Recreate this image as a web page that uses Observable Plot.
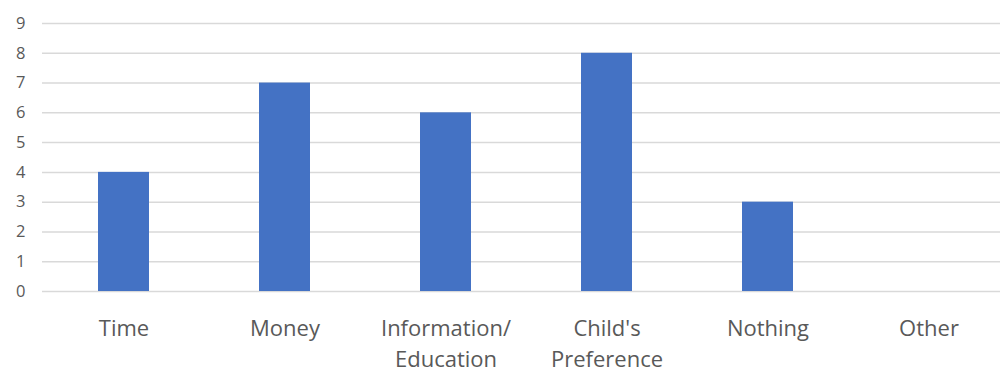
<!DOCTYPE html>
<html>
<head>
<meta charset="utf-8">
<script src="https://cdn.jsdelivr.net/npm/d3@7"></script>
<script src="https://cdn.jsdelivr.net/npm/@observablehq/plot@0.6"></script>
<style>
  html, body { margin: 0; padding: 0; background: #fff; }
  #chart svg { display: block; }
</style>
</head>
<body>
<div id="chart"></div>
<script>
const categories = ["Time", "Money", "Information/\nEducation", "Child's\nPreference", "Nothing", "Other"];
const values = [4, 7, 6, 8, 3, 0];
const yTicks = [0, 1, 2, 3, 4, 5, 6, 7, 8, 9];

const data = categories.map((c, i) => ({category: c, value: values[i]}));

const chart = Plot.plot({
  width: 1000,
  height: 372,
  marginLeft: 42,
  marginRight: 0,
  marginTop: 23,
  marginBottom: 81,
  style: {fontFamily: "'Open Sans', sans-serif", background: "#fff"},
  x: {domain: categories, range: [41.5, 1010.5], paddingInner: 0.685, paddingOuter: 0.3425, align: 0.5},
  y: {domain: [0, 9]},
  marks: [
    Plot.ruleY(yTicks, {stroke: "#d9d9d9", strokeWidth: 1.5}),
    Plot.barY(data, {x: "category", y: "value", fill: "#4472C4"}),
    Plot.axisY({ticks: yTicks, tickSize: 0, tickPadding: 17, fontSize: 16.5, color: "#595959", label: null}),
    Plot.axisX({tickSize: 0, tickPadding: 23, fontSize: 22, color: "#595959", lineHeight: 1.4, label: null})
  ]
});
document.getElementById("chart").appendChild(chart);
</script>
</body>
</html>
